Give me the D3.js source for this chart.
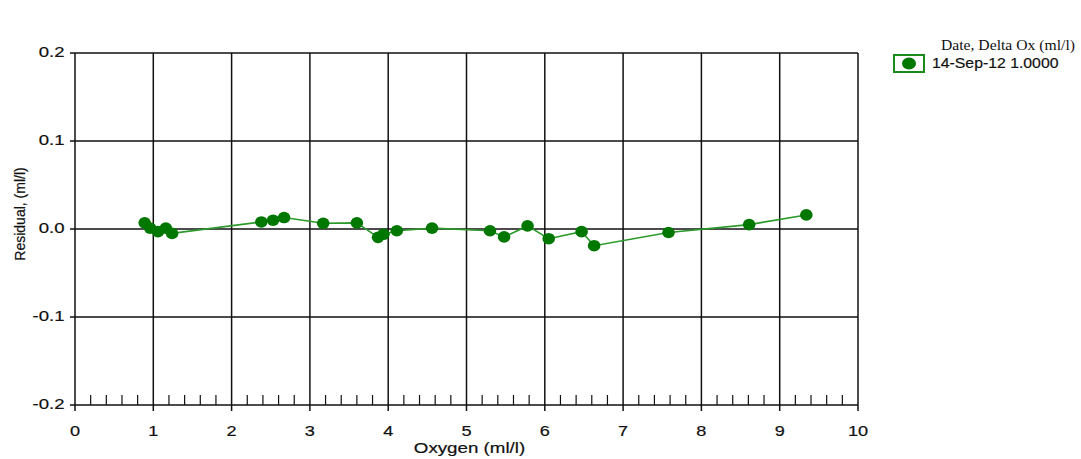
<!DOCTYPE html>
<html>
<head>
<meta charset="utf-8">
<script src="https://cdn.jsdelivr.net/npm/d3@7"></script>
<style>
  body { margin: 0; background: #fff; }
</style>
</head>
<body>
<svg id="chart"></svg>
<script>
// data
const oxygen = [0.89, 0.96, 1.06, 1.16, 1.24, 2.38, 2.53, 2.67, 3.17, 3.60, 3.87, 3.94, 4.11, 4.56, 5.30, 5.48, 5.78, 6.05, 6.47, 6.63, 7.58, 8.61, 9.34];
const residual = [0.007, 0.001, -0.003, 0.001, -0.005, 0.008, 0.010, 0.013, 0.0065, 0.007, -0.0095, -0.006, -0.002, 0.001, -0.002, -0.009, 0.0035, -0.011, -0.003, -0.019, -0.004, 0.005, 0.016];
const xTicks = [0, 1, 2, 3, 4, 5, 6, 7, 8, 9, 10];
const yTicks = [-0.2, -0.1, 0.0, 0.1, 0.2];
const seriesName = "14-Sep-12 1.0000";
const legendTitle = "Date, Delta Ox (ml/l)";

const sans = '"Liberation Sans", Arial, sans-serif';
const serif = '"Liberation Serif", "Times New Roman", serif';

const width = 1081, height = 459;
const margin = {top: 53, right: 223, bottom: 54, left: 75};

const svg = d3.select('#chart').attr('width', width).attr('height', height);
const chart = svg.append('g').attr('transform', `translate(${margin.left},${margin.top})`);
const w = width - margin.left - margin.right;
const h = height - margin.top - margin.bottom;

const x = d3.scaleLinear().domain([0, 10]).range([0, w]);
const y = d3.scaleLinear().domain([-0.2, 0.2]).range([h, 0]);

// the source image is a bit wider than tall, so text gets a horizontal stretch
function label(parent, px, py, str, o) {
    const g = parent.append('g').attr('transform', `translate(${px},${py}) scale(${o.sx || 1},1)`);
    return g.append('text')
        .attr('text-anchor', o.anchor || 'start')
        .attr('font-family', o.family || sans)
        .attr('font-size', o.size || 14)
        .attr('fill', '#111')
        .attr('stroke', o.heavy ? '#111' : 'none')
        .attr('stroke-width', o.heavy ? 0.2 : 0)
        .text(str);
}

// minor ticks on the bottom line, pointing up
const minor = d3.range(0, 10.001, 0.2).filter(v => Math.abs(v - Math.round(v)) > 1e-6);
chart.selectAll('.minor').data(minor).enter().append('line')
    .attr('x1', d => x(d)).attr('x2', d => x(d))
    .attr('y1', h).attr('y2', h - 10)
    .attr('stroke', '#111').attr('stroke-width', 1.2);

// grid
chart.selectAll('.vgrid').data(xTicks).enter().append('line')
    .attr('x1', d => x(d)).attr('x2', d => x(d))
    .attr('y1', 0).attr('y2', h + 6)
    .attr('stroke', '#111').attr('stroke-width', 1.5);
chart.selectAll('.hgrid').data(yTicks).enter().append('line')
    .attr('x1', -5).attr('x2', w)
    .attr('y1', d => y(d)).attr('y2', d => y(d))
    .attr('stroke', '#111').attr('stroke-width', 1.5);

// tick labels
xTicks.forEach(d => label(chart, x(d), h + 31, d, {anchor: 'middle', size: 14.5, sx: 1.25, heavy: true}));
yTicks.forEach(d => label(chart, -10.5, y(d) + 4, d.toFixed(1), {anchor: 'end', size: 14.5, sx: 1.28, heavy: true}));

// axis titles
label(chart, w / 2 + 3, h + 48, 'Oxygen (ml/l)', {anchor: 'middle', size: 15, sx: 1.25, heavy: true});
svg.append('text')
    .attr('transform', `translate(25,214) rotate(-90)`)
    .attr('text-anchor', 'middle').attr('font-family', sans).attr('font-size', 14)
    .attr('fill', '#111').attr('stroke', '#111').attr('stroke-width', 0.2)
    .text('Residual, (ml/l)');

// series
const pts = oxygen.map((d, i) => ({x: d, y: residual[i]}));
const line = d3.line().x(d => x(d.x)).y(d => y(d.y));
chart.append('path').datum(pts)
    .attr('d', line).attr('fill', 'none')
    .attr('stroke', '#2a9a2a').attr('stroke-width', 1.6);
chart.selectAll('.pt').data(pts).enter().append('ellipse')
    .attr('cx', d => x(d.x)).attr('cy', d => y(d.y)).attr('rx', 6.3).attr('ry', 5.8)
    .attr('fill', '#007800');

// legend
label(svg, 1075, 50, legendTitle, {anchor: 'end', family: serif, size: 14, sx: 1.12});
const lg = svg.append('g').attr('transform', 'translate(894,55)');
lg.append('rect').attr('x', 0).attr('y', 0).attr('width', 30).attr('height', 17)
    .attr('fill', '#fff').attr('stroke', '#1a8a1a').attr('stroke-width', 2);
lg.append('ellipse').attr('cx', 15).attr('cy', 8.5).attr('rx', 7).attr('ry', 6).attr('fill', '#007800');
label(svg, 932, 68, seriesName, {size: 14.5, sx: 1.09, heavy: true});
</script>
</body>
</html>
